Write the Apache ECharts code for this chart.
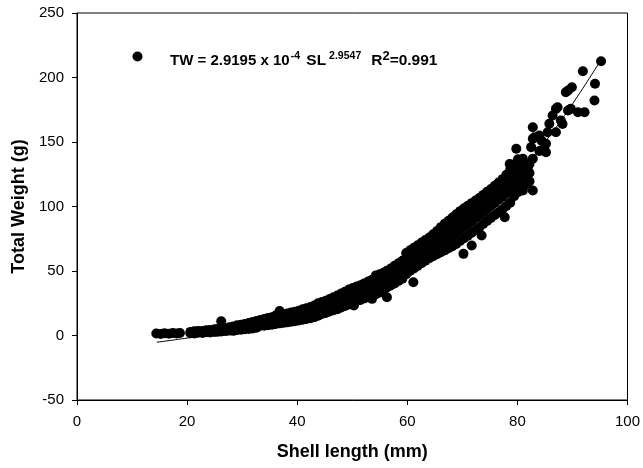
<!DOCTYPE html>
<html>
<head>
<meta charset="utf-8">
<script src="https://cdn.jsdelivr.net/npm/echarts@6/dist/echarts.min.js"></script>
<style>
html,body{margin:0;padding:0;background:#fff;}
#chart{width:643px;height:468px;}
</style>
</head>
<body>
<div id="chart"></div>
<script>
// Observed data: shell length (mm) and total weight (g)
const shellLength = [
  14.4, 15.2, 15.9, 16.7, 17.4, 18.1, 18.7,
  20.6, 20.6, 21.3, 21.3, 22.0, 22.0, 22.8, 22.8, 23.5, 23.5, 24.2, 24.2, 25.0, 25.0, 25.6, 25.6,
  26.2, 26.2, 26.2, 27.0, 27.0, 27.7, 27.7, 28.4, 28.4, 28.4, 29.1, 29.1, 29.1, 29.8, 29.8, 29.8,
  30.5, 30.5, 30.5, 31.2, 31.2, 31.2, 31.9, 31.9, 31.9, 32.6, 32.6, 32.6, 33.3, 33.3, 33.3,
  34.0, 34.0, 34.0, 34.7, 34.7, 34.7, 35.4, 35.4, 35.4, 36.1, 36.1, 36.1, 36.8, 36.8, 36.8,
  37.5, 37.5, 37.5, 38.2, 38.2, 38.2, 38.9, 38.9, 38.9, 39.6, 39.6, 39.6,
  40.3, 40.3, 40.3, 41.0, 41.0, 41.0, 41.7, 41.7, 41.7, 42.4, 42.4, 42.4, 43.1, 43.1, 43.1,
  43.8, 43.8, 43.8, 44.5, 44.5, 44.5, 45.2, 45.2, 45.2, 45.9, 45.9, 45.9, 46.6, 46.6, 46.6,
  47.3, 47.3, 47.3, 48.0, 48.0, 48.0, 48.7, 48.7, 48.7, 49.4, 49.4, 49.4,
  50.1, 50.1, 50.1, 50.3, 50.8, 50.8, 50.8, 51.5, 51.5, 51.5, 52.2, 52.2, 52.2, 52.9, 52.9, 52.9,
  53.6, 53.6, 53.6, 53.6, 54.3, 54.3, 54.3, 55.0, 55.0, 55.0, 55.7, 55.7, 55.7,
  56.3, 56.3, 56.3, 56.3, 57.0, 57.0, 57.0, 57.7, 57.7, 57.7, 58.4, 58.4, 58.4, 59.1, 59.1, 59.1,
  59.8, 59.8, 59.8, 59.8, 60.5, 60.5, 60.5, 60.5, 61.1, 61.2, 61.2, 61.2, 61.2,
  61.9, 61.9, 61.9, 61.9, 62.6, 62.6, 62.6, 62.6, 63.3, 63.3, 63.3, 63.3,
  64.0, 64.0, 64.0, 64.0, 64.7, 64.7, 64.7, 64.7, 65.4, 65.4, 65.4, 65.4,
  66.1, 66.1, 66.1, 66.1, 66.8, 66.8, 66.8, 66.8, 67.5, 67.5, 67.5, 67.5,
  68.2, 68.2, 68.2, 68.2, 68.9, 68.9, 68.9, 68.9, 69.6, 69.6, 69.6, 69.6,
  70.2, 70.3, 70.3, 70.3, 70.3, 71.0, 71.0, 71.0, 71.0, 71.7, 71.7, 71.7, 71.7, 71.7,
  72.4, 72.4, 72.4, 72.4, 73.1, 73.1, 73.1, 73.1, 73.5, 73.8, 73.8, 73.8, 73.8,
  74.5, 74.5, 74.5, 74.5, 75.2, 75.2, 75.2, 75.2, 75.9, 75.9, 75.9, 75.9,
  76.6, 76.6, 76.6, 76.6, 77.3, 77.3, 77.3, 77.3, 77.7, 77.7, 78.0, 78.0, 78.0, 78.0,
  78.7, 78.7, 78.7, 78.7, 78.6, 79.4, 79.4, 79.4, 79.4, 79.8,
  80.1, 80.1, 80.1, 80.1, 80.8, 80.8, 80.8, 80.7, 81.0, 81.0, 81.5, 81.5, 81.5, 81.6, 81.9,
  82.2, 82.2, 82.2, 82.5, 82.8, 82.8, 82.8, 82.8, 83.1, 84.0, 84.0, 84.4, 84.9, 85.2, 85.2,
  85.5, 85.8, 86.4, 87.0, 87.0, 87.3, 87.9, 88.2, 88.8, 89.2, 89.2, 89.7, 89.9,
  91.0, 91.9, 92.2, 94.0, 94.1, 95.2
];
const totalWeight = [
  1.5, 1.2, 1.8, 1.3, 1.9, 1.5, 2.0,
  1.8, 2.8, 1.5, 3.2, 2.2, 3.5, 1.9, 3.4, 2.5, 4.0, 2.3, 4.2, 2.8, 4.8, 3.0, 5.0,
  11.0, 4.2, 3.1, 3.4, 5.6, 3.8, 6.3, 3.6, 5.5, 7.0, 4.2, 6.8, 8.0, 4.5, 6.2, 8.4,
  4.8, 7.0, 9.0, 5.0, 7.5, 9.6, 5.4, 8.0, 10.4, 6.0, 9.0, 11.2, 7.5, 9.8, 12.0,
  7.6, 10.2, 12.8, 8.0, 11.0, 13.6, 8.4, 11.5, 14.2, 9.0, 12.4, 15.5, 9.4, 13.0, 19.0,
  9.8, 13.8, 16.5, 10.2, 14.0, 17.0, 10.6, 14.6, 17.8, 11.0, 15.2, 18.4,
  11.6, 15.8, 19.2, 12.2, 16.4, 20.4, 12.8, 17.2, 21.2, 13.4, 18.0, 22.0, 14.2, 19.2, 23.2,
  15.4, 20.4, 25.0, 16.6, 21.2, 26.0, 17.4, 22.4, 27.0, 18.6, 23.6, 28.2, 19.6, 24.8, 29.6,
  20.4, 25.8, 31.0, 21.8, 27.0, 32.6, 22.8, 28.4, 34.0, 24.0, 29.6, 35.6,
  25.4, 31.0, 36.8, 23.3, 26.8, 32.4, 38.0, 27.6, 33.8, 39.0, 28.8, 35.0, 40.4, 30.2, 36.4, 41.8,
  28.4, 31.8, 38.0, 43.2, 32.0, 39.4, 46.6, 33.4, 40.8, 47.4, 35.6, 42.4, 48.6,
  29.7, 37.2, 44.0, 50.2, 38.8, 45.8, 52.0, 40.4, 47.4, 54.0, 42.2, 49.2, 56.0, 44.0, 51.0, 58.0,
  47.5, 53.0, 60.2, 64.0, 50.0, 55.0, 62.0, 66.0, 41.3, 52.0, 57.0, 64.0, 68.0,
  54.0, 59.0, 66.0, 70.0, 56.0, 61.0, 68.0, 72.0, 58.0, 63.0, 70.0, 74.0,
  60.0, 65.4, 72.0, 76.0, 61.5, 67.6, 74.0, 78.4, 63.0, 69.6, 76.0, 81.0,
  64.5, 71.6, 78.4, 84.0, 66.0, 73.4, 80.6, 86.6, 67.6, 75.4, 83.0, 89.0,
  69.2, 77.6, 85.4, 91.4, 71.0, 79.8, 87.6, 94.0, 73.2, 82.0, 90.0, 96.4,
  63.3, 75.4, 84.2, 92.0, 98.6, 77.4, 86.4, 94.4, 100.6, 69.8, 79.6, 88.6, 96.6, 102.6,
  81.8, 91.0, 99.0, 104.6, 84.0, 93.2, 101.4, 106.6, 77.5, 86.4, 95.6, 103.8, 109.0,
  88.8, 98.0, 106.2, 111.4, 91.2, 100.4, 108.6, 113.6, 93.4, 102.8, 111.0, 116.0,
  95.6, 105.2, 113.4, 118.6, 97.8, 107.6, 116.0, 121.2, 91.7, 117.6, 100.4, 110.2, 119.0, 124.6,
  103.0, 112.8, 122.2, 128.6, 133.0, 108.0, 116.0, 125.2, 132.6, 144.7,
  111.0, 119.4, 128.4, 136.6, 114.0, 122.6, 130.6, 135.7, 112.4, 137.0, 117.0, 124.0, 130.5, 124.0, 130.5,
  119.5, 126.0, 133.0, 146.0, 112.4, 137.0, 152.5, 161.5, 153.7, 143.0, 155.0, 151.0, 148.6, 142.0, 148.6,
  157.6, 164.1, 170.5, 157.6, 175.7, 177.0, 166.7, 164.0, 188.6, 174.4, 189.9, 175.7, 192.5,
  173.1, 204.9, 173.1, 182.2, 195.1, 212.6
];
// Fitted curve as drawn in the figure
const fitLength = [14.5, 17, 20, 22, 25, 30, 35, 40, 45, 50, 55, 60, 65, 70, 75, 80, 85, 90, 95];
const fitWeight = [-5.2, -3.8, -2.0, -0.8, 1.5, 5.5, 10.5, 16.5, 23.5, 32, 42.5, 55, 69, 85, 104, 125, 150, 179.5, 212.5];

const xTicks = {min: 0, max: 100, interval: 20};
const yTicks = {min: -50, max: 250, interval: 50};

const FONT = '"Liberation Sans", Arial, sans-serif';

const chart = echarts.init(document.getElementById('chart'), null, {renderer: 'canvas'});

const scatterData = shellLength.map((x, i) => [x, totalWeight[i]]);
const lineData = fitLength.map((x, i) => [x, fitWeight[i]]);

const axisCommon = {
  type: 'value',
  nameLocation: 'middle',
  nameTextStyle: {fontFamily: FONT, fontSize: 18, fontWeight: 'bold', color: '#000'},
  axisLine: {show: true, onZero: false, lineStyle: {color: '#000', width: 1}},
  axisTick: {show: true, inside: false, length: 5, lineStyle: {color: '#000', width: 1}},
  splitLine: {show: false}
};

const bold = {fontFamily: FONT, fontWeight: 'bold', color: '#000'};

chart.setOption({
  animation: false,
  backgroundColor: '#fff',
  grid: {left: 77, right: 14, top: 13, bottom: 68, show: true, borderColor: '#000', borderWidth: 1, backgroundColor: 'transparent'},
  xAxis: Object.assign({}, axisCommon, {
    name: 'Shell length (mm)', nameGap: 43,
    min: xTicks.min, max: xTicks.max, interval: xTicks.interval,
    axisLabel: {fontFamily: FONT, fontSize: 15, color: '#000', margin: 14}
  }),
  yAxis: Object.assign({}, axisCommon, {
    name: 'Total Weight (g)', nameGap: 48,
    min: yTicks.min, max: yTicks.max, interval: yTicks.interval,
    axisLabel: {fontFamily: FONT, fontSize: 15, color: '#000', margin: 13}
  }),
  legend: {
    show: true,
    left: 132.5,
    top: 50,
    padding: 0,
    selectedMode: false,
    icon: 'circle',
    itemWidth: 10,
    itemHeight: 10,
    data: ['Total weight'],
    formatter: function () {
      return '{b0|TW = 2.9195 x 10}{s|-4}{b| SL}{s1|2.9547}{r|R}{t|2}{b|=0.991}';
    },
    textStyle: {
      color: '#000',
      fontFamily: FONT,
      rich: {
        b0: Object.assign({fontSize: 15, lineHeight: 14, verticalAlign: 'bottom', padding: [0, 0, 0, 22.5]}, bold),
        b: Object.assign({fontSize: 15.5, lineHeight: 14, verticalAlign: 'bottom'}, bold),
        r: Object.assign({fontSize: 15.5, lineHeight: 14, verticalAlign: 'bottom', padding: [0, 0, 0, 10]}, bold),
        s: Object.assign({fontSize: 10.5, lineHeight: 24, verticalAlign: 'middle', padding: [0, 2, 0, 1]}, bold),
        s1: Object.assign({fontSize: 10.5, lineHeight: 24, verticalAlign: 'middle', padding: [0, 0, 0, 3]}, bold),
        t: Object.assign({fontSize: 13, lineHeight: 24, verticalAlign: 'middle', padding: [0, 0, 0, 0]}, bold)
      }
    }
  },
  series: [
    {
      name: 'Total weight',
      type: 'scatter',
      data: scatterData,
      symbol: 'circle',
      symbolSize: 10,
      itemStyle: {color: '#000', opacity: 1},
      z: 2
    },
    {
      name: 'Fit',
      type: 'line',
      data: lineData,
      smooth: true,
      showSymbol: false,
      symbol: 'none',
      lineStyle: {color: '#000', width: 1},
      z: 3
    }
  ]
});
</script>
</body>
</html>
